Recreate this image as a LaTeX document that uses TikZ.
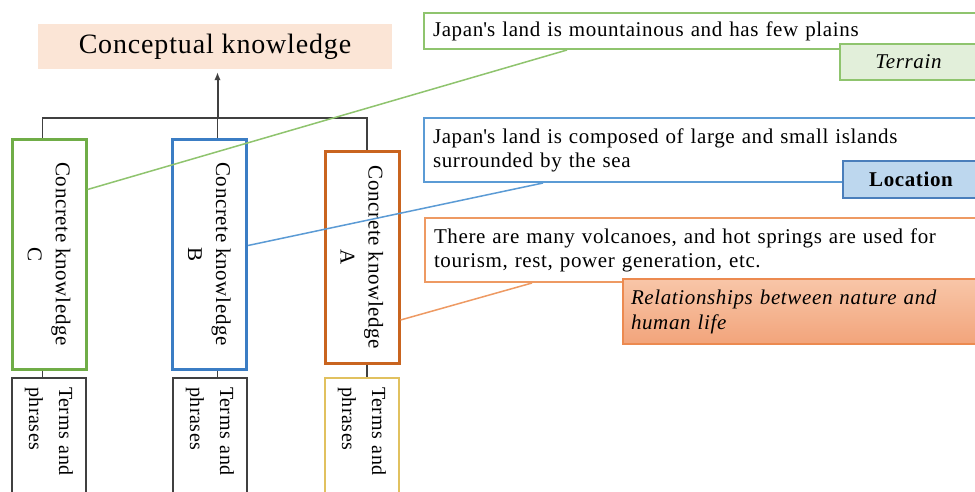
\documentclass[tikz,border=0pt]{standalone}
\usepackage{fontspec}
\setmainfont{Liberation Serif}[LetterSpace=3]
\usetikzlibrary{arrows.meta,calc}
\definecolor{peach}{HTML}{FBE5D6}
\definecolor{cgreen}{HTML}{70AD47}
\definecolor{lgreen}{HTML}{8FC46E}
\definecolor{tgreenfill}{HTML}{E2EFDA}
\definecolor{cblue}{HTML}{3B7DC4}
\definecolor{lblue}{HTML}{5B9BD5}
\definecolor{locfill}{HTML}{BDD7EE}
\definecolor{locborder}{HTML}{4A7EBB}
\definecolor{corange}{HTML}{C9641F}
\definecolor{lorange}{HTML}{EE9A63}
\definecolor{relborder}{HTML}{EC8A50}
\definecolor{reltop}{HTML}{F8C6A8}
\definecolor{relbot}{HTML}{F2A47B}
\definecolor{goldline}{HTML}{E1C15F}
\definecolor{treegray}{HTML}{404040}
\begin{document}
\begin{tikzpicture}[x=1pt,y=-1pt,
  ckbox/.style={draw, fill=white, line width=3pt, rotate=-90, minimum height=74pt,
    align=center, inner sep=0pt, font=\fontsize{21}{28}\selectfont},
  termbox/.style={draw, line width=1.5pt, rotate=-90, minimum width=124pt, minimum height=74pt,
    align=left, text width=106pt, inner xsep=9pt, inner ysep=0pt, font=\fontsize{20}{30}\selectfont},
  callout/.style={draw, line width=2pt, fill=white, anchor=north west, minimum width=570pt,
    text width=552pt, align=left, inner xsep=9pt, inner ysep=0pt, font=\fontsize{21}{24}\selectfont},
  tag/.style={draw, line width=2pt, anchor=north west, inner ysep=0pt, font=\fontsize{21}{25}\selectfont},
  tree/.style={draw=treegray, line width=1.6pt},
  link/.style={line width=1.5pt}
]
\useasboundingbox (0,0) rectangle (975,491);
\fill[white] (0,0) rectangle (975,491);

% conceptual knowledge
\node[fill=peach, minimum width=354pt, minimum height=45pt, inner sep=0pt,
      font=\fontsize{28}{32}\selectfont] (concept) at (215,46.5) {Conceptual knowledge};

% concrete knowledge boxes
\node[ckbox, draw=cgreen, minimum width=230pt] (ckC) at (49,254) {Concrete knowledge\\C};
\node[ckbox, draw=cblue, minimum width=230pt] (ckB) at (209.5,254) {Concrete knowledge\\B};
\node[ckbox, draw=corange, minimum width=212pt] (ckA) at (362,257.5) {Concrete knowledge\\A};

% terms boxes
\node[termbox, draw=treegray] (tmC) at (49,440) {Terms and\\phrases};
\node[termbox, draw=treegray] (tmB) at (210,440) {Terms and\\phrases};
\node[termbox, draw=goldline] (tmA) at (362,440) {Terms and\\phrases};

% tree
\coordinate (tC) at (42.5,118);
\coordinate (hub) at (217.5,118);
\coordinate (tA) at (367,118);
\draw[tree] (tC |- ckC.west) -- (tC) -- (tA) -- (tA |- ckA.west);
\draw[tree] (hub |- ckB.west) -- (hub);
\draw[tree, line width=2pt, -{Latex[length=8pt,width=6.5pt]}, shorten >=3pt] (hub) -- (concept.south -| hub);
\draw[tree] (tC |- ckC.east) -- (tC |- tmC.west);
\draw[tree] (hub |- ckB.east) -- (hub |- tmB.west);
\draw[tree] (tA |- ckA.east) -- (tA |- tmA.west);

% callouts
\node[callout, draw=lgreen, minimum height=36pt] (c1) at (423,12)
  {Japan\textquotesingle s land is mountainous and has few plains};
\node[callout, draw=lblue, minimum height=64pt] (c2) at (423,117)
  {Japan\textquotesingle s land is composed of large and small islands\\surrounded by the sea};
\node[callout, draw=lorange, minimum height=64pt] (c3) at (424,217)
  {There are many volcanoes, and hot springs are used for\\tourism, rest, power generation, etc.};

% tags
\node[tag, draw=lgreen, fill=tgreenfill, minimum width=151pt, minimum height=36pt] (tagT) at (839,43)
  {\hspace*{-14pt}\itshape Terrain};
\node[tag, draw=locborder, fill=locfill, minimum width=148pt, minimum height=37pt] (tagL) at (842,160)
  {\hspace*{-12pt}\bfseries Location};
\node[tag, draw=relborder, top color=reltop, bottom color=relbot, minimum width=368pt,
      minimum height=65pt, text width=352pt, inner xsep=8pt, align=left] (tagR) at (622,278)
  {\itshape Relationships between nature and\\human life};

% links
\draw[link, draw=lgreen] ([yshift=-52pt]ckC.north west) -- ([xshift=144pt]c1.south west);
\draw[link, draw=lblue] ([yshift=-108pt]ckB.north west) -- ([xshift=120pt]c2.south west);
\draw[link, draw=lorange] ([yshift=-170pt]ckA.north west) -- ([xshift=108pt]c3.south west);
\end{tikzpicture}
\end{document}
